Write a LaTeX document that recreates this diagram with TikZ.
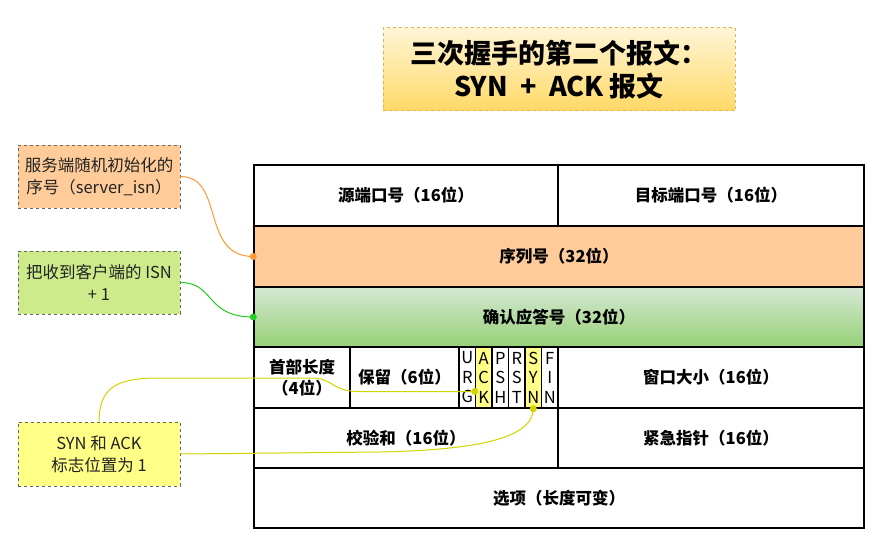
\documentclass[tikz,border=0pt]{standalone}
\usepackage{fontspec}
\setmainfont{Noto Sans CJK SC}
\usetikzlibrary{calc}
\definecolor{orfill}{HTML}{FFCC99}
\definecolor{grfill}{HTML}{CDEB8B}
\definecolor{ylfill}{HTML}{FFFF88}
\definecolor{grtop}{HTML}{D5E8D4}
\definecolor{grbot}{HTML}{97D077}
\definecolor{ttop}{HTML}{FFF5D6}
\definecolor{tbot}{HTML}{FFD966}
\definecolor{tborder}{HTML}{D6B656}
\definecolor{orline}{HTML}{FF9933}
\definecolor{grline}{HTML}{22CC22}
\definecolor{ylline}{HTML}{D4D400}
\definecolor{notebd}{HTML}{666666}
\definecolor{notetx}{HTML}{222222}
\tikzset{
  cell/.style={draw=black, line width=1.4pt, inner sep=0pt, align=center,
    font=\fontsize{16.5}{21}\selectfont\bfseries},
  flagcell/.style={cell, minimum width=16.5pt, minimum height=61pt,
    font=\fontsize{16.5}{19.5}\selectfont},
  note/.style={draw=notebd, dashed, line width=0.8pt, minimum width=162pt,
    minimum height=63pt, inner sep=1pt, align=center, text=notetx,
    font=\fontsize{16.5}{22}\selectfont},
  conn/.style={line width=1pt}
}
\begin{document}
\begin{tikzpicture}[x=1pt,y=-1pt]
\useasboundingbox[fill=white] (0,0) rectangle (893,540);

% title
\node[draw=tborder, dashed, line width=1pt, top color=ttop, bottom color=tbot,
  minimum width=352pt, minimum height=83pt, align=center,
  font=\fontsize{27}{33}\selectfont\bfseries] (title) at (559,69.5)
  {三次握手的第二个报文：\\SYN\ \ +\ \ ACK 报文};

% table
\node[cell, minimum width=304pt, minimum height=61pt] (src) at (406,195.5) {源端口号（16位）};
\node[cell, minimum width=306pt, minimum height=61pt] (dst) at (711,195.5) {目标端口号（16位）};
\node[cell, fill=orfill, minimum width=610pt, minimum height=61pt] (seq) at (559,256.5) {序列号（32位）};
\node[cell, top color=grtop, bottom color=grbot, minimum width=610pt, minimum height=60pt] (ack) at (559,317) {确认应答号（32位）};
\node[cell, minimum width=96pt, minimum height=61pt] (hlen) at (302,377.5) {首部长度\\（4位）};
\node[cell, minimum width=109pt, minimum height=61pt] (rsv) at (404.5,377.5) {保留（6位）};
\node[flagcell] (fU) at (467.25,377.5) {U\\R\\G};
\node[flagcell, fill=ylfill] (fA) at (483.75,377.5) {A\\C\\K};
\node[flagcell] (fP) at (500.25,377.5) {P\\S\\H};
\node[flagcell] (fR) at (516.75,377.5) {R\\S\\T};
\node[flagcell, fill=ylfill] (fS) at (533.25,377.5) {S\\Y\\N};
\node[flagcell] (fF) at (549.75,377.5) {F\\I\\N};
\node[cell, minimum width=306pt, minimum height=61pt] (win) at (711,377.5) {窗口大小（16位）};
\node[cell, minimum width=304pt, minimum height=60pt] (chk) at (406,438) {校验和（16位）};
\node[cell, minimum width=306pt, minimum height=60pt] (urg) at (711,438) {紧急指针（16位）};
\node[cell, minimum width=610pt, minimum height=60pt] (opt) at (559,498) {选项（长度可变）};

% notes
\node[note, fill=orfill] (nseq) at (99,176.5) {服务端随机初始化的\\序号（server\_isn）};
\node[note, fill=grfill] (nack) at (99,282.5) {把收到客户端的 ISN\\+ 1};
\node[note, fill=ylfill, minimum height=64pt] (nflag) at (99,454) {SYN 和 ACK\\标志位置为 1};

% connector end points
\coordinate (ackpt) at ([yshift=-14pt]fA.west);

% connectors
\draw[conn, orline] (nseq.east) .. controls (225,176.5) and (200,256.5) .. (seq.west);
\draw[conn, grline] (nack.east) .. controls (215,282.5) and (205,317) .. (ack.west);
\draw[conn, ylline] (nflag.north) .. controls (99,385) and (120,378) .. (160,378)
  -- (310,378) .. controls (335,378) and (330,391.5) .. (360,391.5) -- (ackpt);
\draw[conn, ylline] (nflag.east) -- (380,452) .. controls (470,450) and (533,440) .. (fS.south);

% dots
\fill[orline] (seq.west) circle (3.5pt);
\fill[grline] (ack.west) circle (3.5pt);
\fill[ylline] (ackpt) circle (3.5pt);
\fill[ylline] (fS.south) circle (3.5pt);
\end{tikzpicture}
\end{document}
